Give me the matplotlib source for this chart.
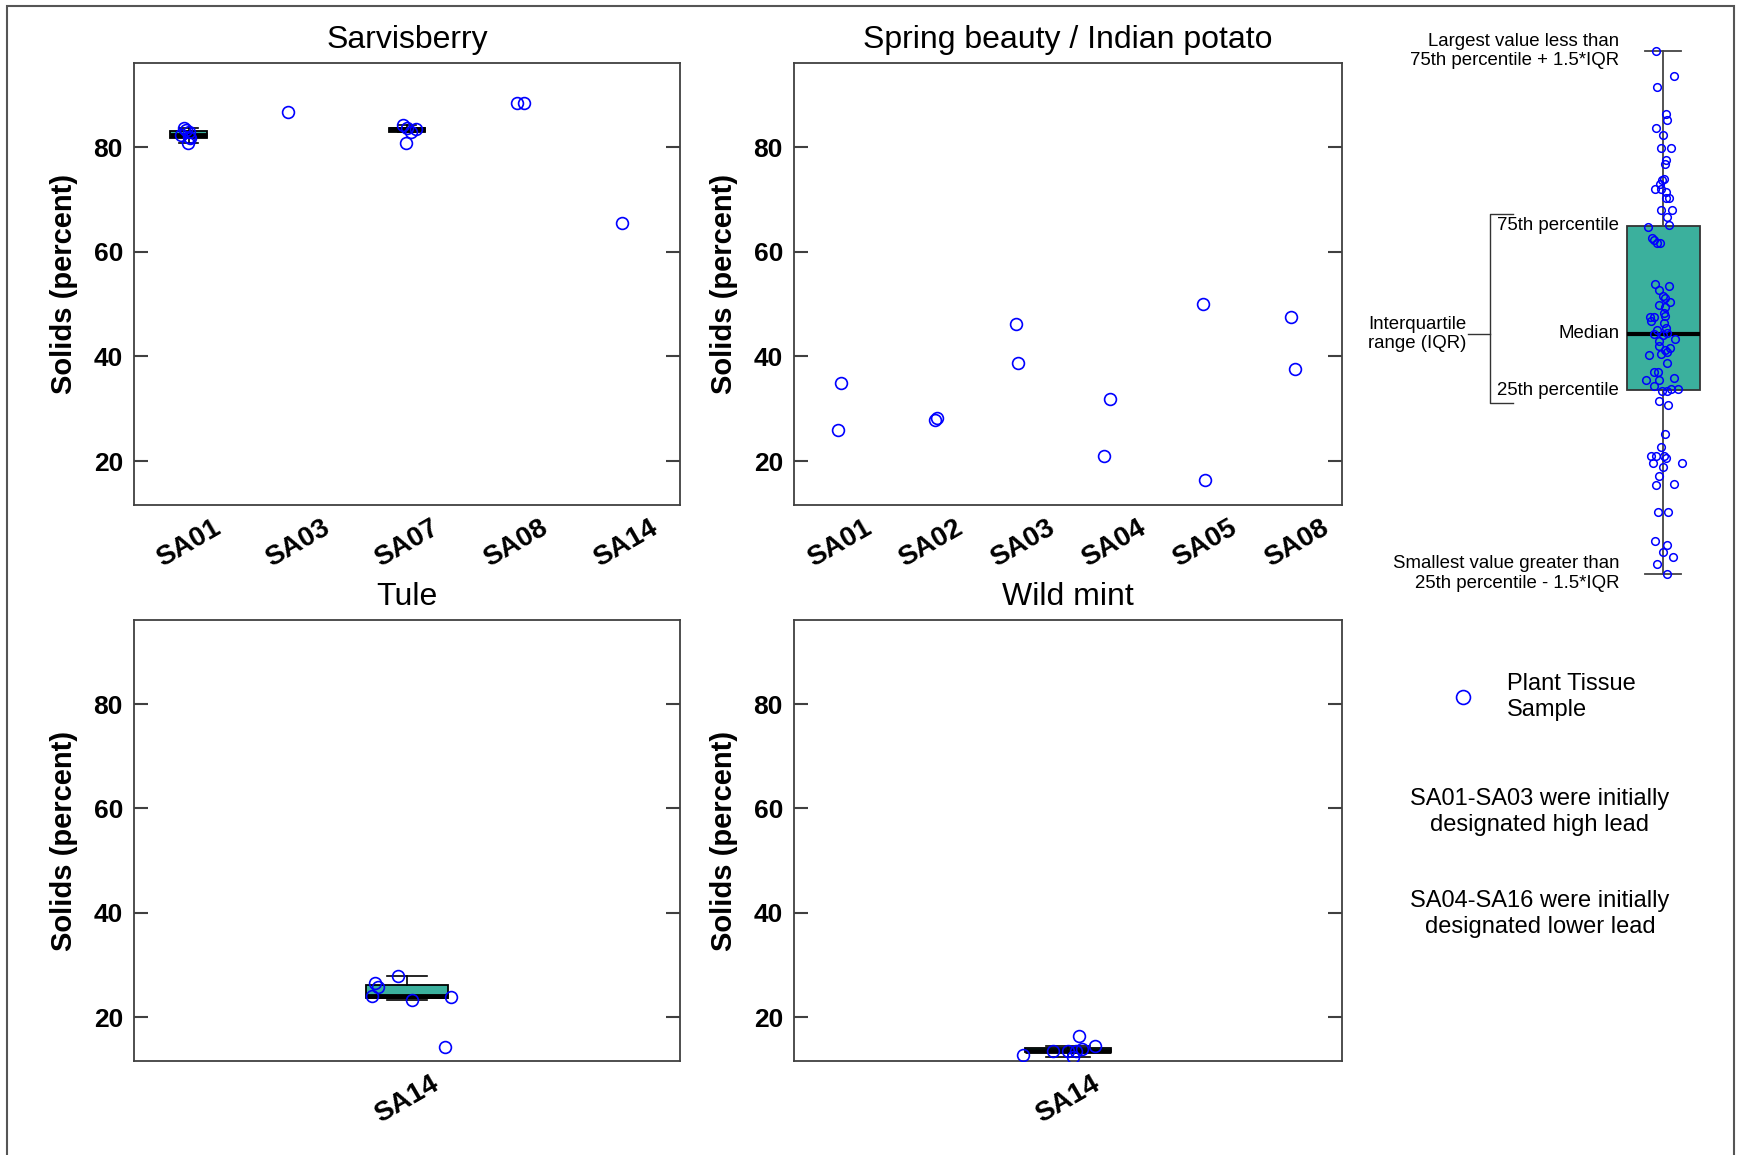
import numpy as np
import matplotlib
matplotlib.use('Agg')
import matplotlib.pyplot as plt
from matplotlib.lines import Line2D
from matplotlib.patches import Rectangle

plt.rcParams['font.family'] = ['Liberation Sans', 'DejaVu Sans']

W, H = 1737, 1155
TEAL = '#3bb09d'
GREY = '#404040'

# --- data ---
sarv_sites = ['SA01', 'SA03', 'SA07', 'SA08', 'SA14']
sarv_values = [[83.6, 83.3, 82.9, 82.3, 82.0, 81.7, 80.8], [86.7],
               [84.2, 83.7, 83.5, 83.0, 80.9], [88.4, 88.5], [65.6]]
sarv_jitter = [[-0.04, -0.02, 0.0, -0.07, 0.0, 0.01, -0.01], [-0.09],
               [-0.04, 0.0, 0.08, 0.04, -0.01], [0.01, 0.07], [-0.03]]

spring_sites = ['SA01', 'SA02', 'SA03', 'SA04', 'SA05', 'SA08']
spring_values = [[35.0, 26.0], [27.9, 28.2], [46.2, 38.7],
                 [31.8, 20.9], [50.1, 16.4], [47.5, 37.6]]
spring_jitter = [[0.02, -0.02], [0.04, 0.07], [-0.07, -0.05],
                 [-0.04, -0.11], [-0.02, 0.0], [-0.06, -0.01]]

tule_sites = ['SA14']
tule_values = [[24.1, 26.5, 25.7, 27.9, 23.3, 23.9, 14.3]]
tule_jitter = [[-0.064, -0.058, -0.054, -0.017, 0.01, 0.08, 0.07]]

mint_sites = ['SA14']
mint_values = [[12.7, 13.5, 13.6, 12.4, 13.6, 16.3, 13.9, 14.4]]
mint_jitter = [[-0.083, -0.028, 0.0, 0.01, 0.015, 0.02, 0.025, 0.05]]

# schematic (legend) box: stats and example points
key_stats = dict(med=45.9, q1=35.1, q3=66.6, whislo=0.0, whishi=100.0)
key_values = [100.0, 95.2, 93.2, 87.9, 86.8, 85.2, 83.9, 81.5, 81.5, 79.2, 78.3,
              75.6, 75.3, 74.6, 73.6, 73.6, 73.0, 71.9, 71.9, 69.6, 69.6, 68.3,
              66.7, 66.3, 64.2, 63.9, 63.2, 63.2, 55.5, 55.1, 54.2, 53.1, 52.7,
              51.9, 51.5, 51.0, 49.8, 49.4, 49.1, 49.1, 48.3, 47.9, 47.0, 46.7,
              45.9, 46.0, 45.6, 45.0, 44.6, 43.5, 43.1, 42.9, 42.5, 41.9, 42.1,
              40.3, 38.6, 38.6, 37.4, 37.0, 37.0, 35.9, 35.0, 35.0, 35.4, 35.4,
              33.0, 32.2, 26.8, 24.2, 22.6, 22.6, 22.5, 22.1, 21.2, 20.5, 21.2,
              18.7, 16.9, 17.1, 11.8, 11.8, 6.2, 5.5, 4.2, 3.3, 1.9, 0.0]
key_jitter = [-0.092, 0.156, -0.087, 0.041, 0.050, -0.101, -0.005, -0.023, 0.106,
              0.046, 0.028, 0.018, -0.014, -0.037, -0.110, -0.023, 0.037, 0.037,
              0.087, -0.032, 0.124, 0.050, 0.083, -0.206, -0.151, -0.128, -0.083,
              -0.037, -0.106, 0.078, -0.050, 0.0, 0.023, 0.096, -0.050, 0.023,
              0.018, 0.028, -0.174, -0.128, -0.170, 0.009, 0.037, -0.083, -0.119,
              0.060, 0.0, 0.165, -0.050, -0.050, 0.096, 0.028, 0.060, -0.197,
              -0.028, 0.055, -0.119, -0.069, 0.151, -0.229, -0.055, -0.128, -0.014,
              0.055, 0.110, 0.206, -0.050, 0.069, 0.023, -0.023, -0.161, -0.096,
              0.009, 0.041, -0.138, -0.005, 0.261, -0.055, -0.096, 0.151, -0.069,
              0.064, -0.110, 0.060, -0.005, 0.133, -0.083, 0.060]


def rect(l, t, r, b):
    return [l / W, 1 - b / H, (r - l) / W, (b - t) / H]


fig = plt.figure(figsize=(W / 100, H / 100), dpi=100)


def panel(box, title, sites, values, jitter, width):
    ax = fig.add_axes(rect(*box))
    pos = np.arange(1, len(sites) + 1)
    idx = [i for i, v in enumerate(values) if len(v) >= 3]
    if idx:
        ax.boxplot([values[i] for i in idx], positions=pos[idx], widths=width,
                   patch_artist=True, showfliers=False, capwidths=width * 0.5,
                   boxprops=dict(facecolor=TEAL, edgecolor='black', linewidth=1.3),
                   medianprops=dict(color='black', linewidth=3.5),
                   whiskerprops=dict(color='black', linewidth=1.2),
                   capprops=dict(color='black', linewidth=1.2))
    for p, v, j in zip(pos, values, jitter):
        ax.plot(p + np.array(j), v, 'o', ms=8.5, mfc='none', mec='blue',
                mew=1.2, zorder=5)
    ax.set_xlim(0.5, len(sites) + 0.5)
    ax.set_ylim(11.6, 96.1)
    ax.set_xticks(pos)
    ax.set_xticklabels(sites, rotation=30, ha='center', fontsize=20,
                       fontweight='bold')
    ax.set_yticks([20, 40, 60, 80])
    ax.set_yticklabels(['20', '40', '60', '80'], fontsize=19, fontweight='bold')
    ax.tick_params(axis='y', direction='in', length=10, width=1.5, color=GREY,
                   left=True, right=True, pad=8)
    ax.tick_params(axis='x', length=0, pad=7)
    for s in ax.spines.values():
        s.set_color(GREY)
        s.set_linewidth(1.3)
    ax.set_title(title, fontsize=23, pad=11)
    ax.set_ylabel('Solids (percent)', fontsize=21, fontweight='bold', va='center')
    ax.yaxis.set_label_coords(-0.128, 0.5)
    return ax


panel((134, 63, 680, 505), 'Sarvisberry', sarv_sites, sarv_values, sarv_jitter, 0.335)
panel((794, 63, 1342, 505), 'Spring beauty / Indian potato', spring_sites,
      spring_values, spring_jitter, 0.335)
panel((134, 620, 680, 1061), 'Tule', tule_sites, tule_values, tule_jitter, 0.15)
panel((794, 620, 1342, 1061), 'Wild mint', mint_sites, mint_values, mint_jitter, 0.158)

# --- schematic key ---
ax_k = fig.add_axes(rect(1590, 40, 1728.7, 590))
ax_k.set_xlim(-1, 0.9)
ax_k.set_ylim(-3.1, 102.1)
ax_k.set_axis_off()
ax_k.bxp([key_stats], positions=[0], widths=1.0, patch_artist=True,
         showfliers=False, capwidths=0.5,
         boxprops=dict(facecolor=TEAL, edgecolor='#333333', linewidth=1.3),
         medianprops=dict(color='black', linewidth=3),
         whiskerprops=dict(color='#444444', linewidth=1.3),
         capprops=dict(color='#444444', linewidth=1.3))
ax_k.plot(np.array(key_jitter), key_values, 'o', ms=5.5, mfc='none', mec='blue',
          mew=1.1, zorder=5, clip_on=False)

kfs = 13.4
ax_k.text(-0.6, 100, 'Largest value less than\n75th percentile + 1.5*IQR',
          ha='right', va='center', fontsize=kfs, linespacing=1.2)
ax_k.text(-0.6, key_stats['q3'], '75th percentile', ha='right', va='center', fontsize=kfs)
ax_k.text(-0.6, key_stats['med'], 'Median', ha='right', va='center', fontsize=kfs)
ax_k.text(-0.6, key_stats['q1'], '25th percentile', ha='right', va='center', fontsize=kfs)
ax_k.text(-0.6, 0, 'Smallest value greater than\n25th percentile - 1.5*IQR',
          ha='right', va='center', fontsize=kfs, linespacing=1.2)
ax_k.plot([-2.05, -2.37, -2.37, -2.05], [68.9, 68.9, 32.6, 32.6], color='#333333',
          lw=1, clip_on=False)
ax_k.plot([-2.67, -2.37], [key_stats['med'], key_stats['med']], color='#333333',
          lw=1, clip_on=False)
ax_k.text(-2.69, key_stats['med'], 'Interquartile\nrange (IQR)', ha='right',
          va='center', fontsize=kfs, linespacing=1.2)

# --- legend texts ---
fig.add_artist(Line2D([1463 / W], [1 - 697 / H], marker='o', ms=10, mfc='none',
                      mec='blue', mew=1.2, transform=fig.transFigure))
fig.text(1507 / W, 1 - 697 / H, 'Plant Tissue\nSample', ha='left', va='center',
         fontsize=17, linespacing=1.2)
fig.text(1540 / W, 1 - 812 / H, 'SA01-SA03 were initially\ndesignated high lead',
         ha='center', va='center', fontsize=17, linespacing=1.2, multialignment='center')
fig.text(1540 / W, 1 - 914 / H, 'SA04-SA16 were initially\ndesignated lower lead',
         ha='center', va='center', fontsize=17, linespacing=1.2, multialignment='center')

# figure border
fig.add_artist(Rectangle((7 / W, -0.01), (1734 - 7) / W, 1 - 6 / H + 0.01,
                         transform=fig.transFigure, fill=False, ec='#555555', lw=1.5))

fig.savefig('out.png', dpi=100)
